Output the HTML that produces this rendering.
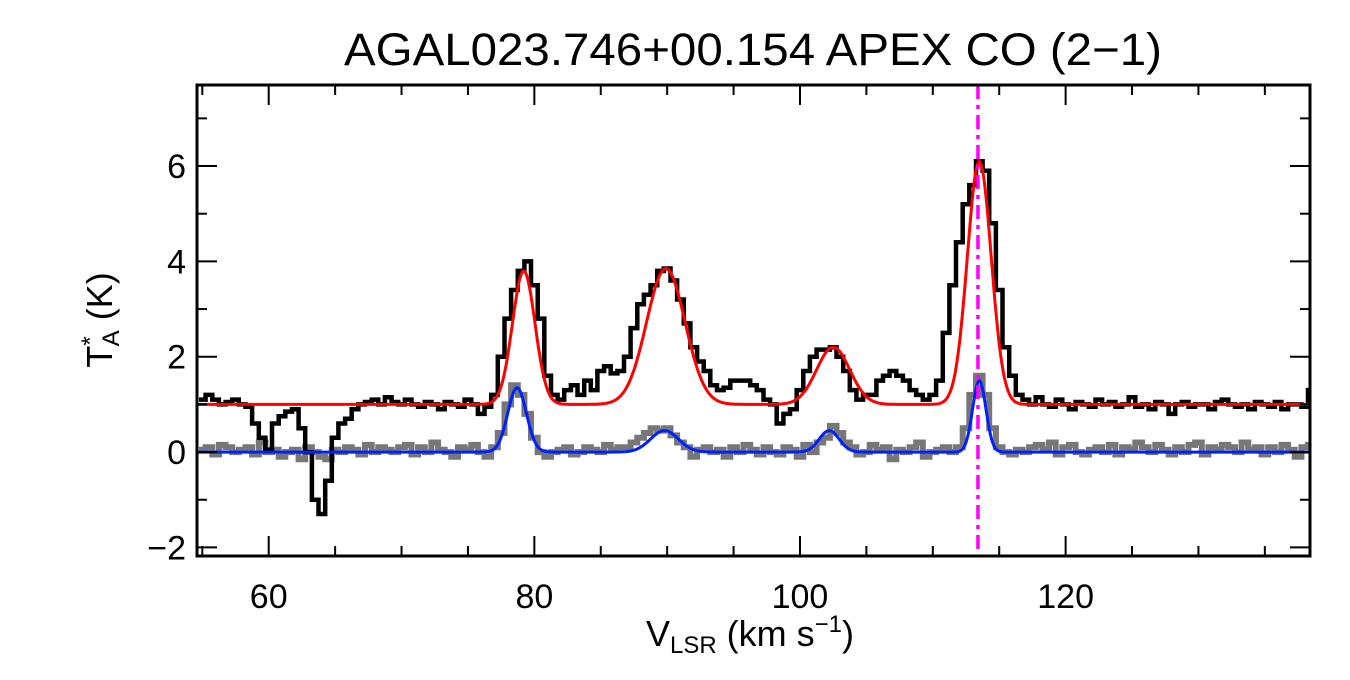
<!DOCTYPE html>
<html><head><meta charset="utf-8"><style>
body{margin:0;background:#fff;width:1350px;height:675px;overflow:hidden}
svg text{font-family:"Liberation Sans",sans-serif;fill:#000}
</style></head><body>
<svg id="chart" width="1350" height="675">
<text x="753" y="65" font-size="45" text-anchor="middle" textLength="818" lengthAdjust="spacingAndGlyphs">AGAL023.746+00.154  APEX CO (2−1)</text>
<g id="series"></g>
<g id="axes"></g>
<text x="750" y="646" font-size="36" text-anchor="middle">V<tspan font-size="24" dy="7">LSR</tspan><tspan dy="-7"> (km s</tspan><tspan font-size="24" dy="-14">−1</tspan><tspan dy="14">)</tspan></text>
<text transform="translate(112,320) rotate(-90)" font-size="36" text-anchor="middle">T<tspan font-size="24" dy="-14">*</tspan><tspan font-size="24" dx="-10" dy="21">A</tspan><tspan dy="-7"> (K)</tspan></text>
</svg>
<script>
const v0 = 55, dv = 0.5;
const obsMain = [
1.1,1.2,1.1,1.0,1.05,1.1,1.0,0.95,
0.6,0.3,0.05,0.6,0.75,0.85,0.9,
0.5,0.0,-1.0,-1.3,-0.6,0.3,0.6,0.7,0.9,1.0,
1.05,1.1,1.0,1.15,1.05,1.0,1.1,1.0,0.95,1.05,1.0,0.9,1.05,1.0,0.95,1.1,1.0,0.8,0.95,
1.2,2.0,2.8,3.4,3.8,4.0,3.5,2.8,1.6,1.2,
1.1,1.3,1.4,1.2,1.5,1.3,1.7,1.8,1.65,1.7,
2.0,2.6,3.1,3.3,3.5,3.8,3.85,3.6,3.2,2.7,
2.2,1.9,1.7,1.4,1.3,1.35,1.5,1.5,1.5,1.4,
1.3,1.1,1.0,0.6,0.8,0.9,1.3,1.7,2.0,2.15,
2.15,2.2,2.0,1.7,1.3,1.1,1.2,1.2,1.5,1.6,
1.7,1.6,1.5,1.3,1.2,1.1,1.2,1.5,2.5,3.5,
4.4,5.2,5.6,6.1,5.9,4.8,3.4,2.2,1.6,1.2,
1.1,1.0,1.15,1.0,0.95,1.1,1.0,0.9,1.05,1.0,0.95,1.1,1.0,1.05,0.95,1.0,1.15,0.95,1.0,0.9,1.05,1.0,
0.8,1.0,1.05,0.95,1.0,1.0,0.9,1.05,1.1,1.0,0.95,1.0,0.9,1.05,1.0,0.95,1.05,0.9,1.0,1.0,0.95,1.3];
const obsIso = [
0.05,0.1,-0.05,0.15,0.1,0.0,0.05,0.1,-0.05,0.2,0.0,0.05,-0.1,0.0,0.05,-0.15,0.1,0.0,-0.1,-0.15,0.05,0.0,
0.1,0.05,-0.05,0.15,0.0,0.1,0.05,0.0,0.1,0.15,-0.05,0.1,0.0,0.2,0.05,0.0,-0.1,0.1,0.05,0.15,0.0,-0.1,
0.1,0.4,1.0,1.4,1.2,0.8,0.3,0.0,-0.1,0.0,
0.05,0.1,-0.05,0.0,0.1,0.05,0.0,0.15,0.05,0.1,
0.1,0.2,0.3,0.4,0.5,0.45,0.5,0.35,0.2,0.1,
-0.1,0.05,0.1,0.0,0.05,-0.1,0.1,0.0,0.15,0.05,
-0.05,0.1,0.0,-0.05,0.1,0.05,-0.1,0.15,0.0,0.2,
0.3,0.55,0.4,0.2,0.1,-0.05,0.0,0.15,0.05,0.1,
-0.15,0.05,0.0,0.1,0.2,-0.1,0.0,0.05,0.1,0.0,
0.1,0.5,1.2,1.6,1.2,0.5,0.1,0.0,-0.05,0.05,
0.0,0.1,0.15,0.05,0.2,-0.05,0.1,0.15,0.0,-0.05,0.05,0.1,0.0,0.15,-0.05,0.1,0.05,0.2,0.1,0.0,0.15,0.05,
-0.05,0.1,0.0,0.15,0.2,-0.05,0.1,0.05,0.15,0.1,0.0,0.2,0.05,0.1,-0.05,0.1,0.0,0.15,0.05,-0.1,0.1,0.15];
const fitMainBase = 1.0;
const fitMainCenters = [79.2, 89.9, 102.5, 113.5];
const fitMainAmps = [2.8, 2.85, 1.2, 5.1];
const fitMainSigmas = [0.85, 1.45, 1.25, 0.9];
const fitIsoCenters = [78.7, 89.8, 102.2, 113.5];
const fitIsoAmps = [1.35, 0.45, 0.45, 1.5];
const fitIsoSigmas = [0.7, 1.05, 0.75, 0.5];
const vMarker = 113.4;
const xTicks = [60, 80, 100, 120];
const yTicks = [-2, 0, 2, 4, 6];

const L=197,R=1310,T=85,B=556, xmin=54.6,xmax=138.4,ymin=-2.18,ymax=7.7;
const X=v=>L+(v-xmin)/(xmax-xmin)*(R-L);
const Y=t=>B-(t-ymin)/(ymax-ymin)*(B-T);
const NS='http://www.w3.org/2000/svg';
const sg=document.getElementById('series'), ag=document.getElementById('axes');
function mk(tag,attrs,parent){const e=document.createElementNS(NS,tag);for(const k in attrs)e.setAttribute(k,attrs[k]);parent.appendChild(e);return e;}
function stepPath(arr){let d='';arr.forEach((t,i)=>{const a=Math.max(X(v0+i*dv-dv/2),L),b=Math.min(X(v0+i*dv+dv/2),R);d+=(i?'L':'M')+a.toFixed(1)+','+Y(t).toFixed(1)+'L'+b.toFixed(1)+','+Y(t).toFixed(1);});return d;}
function fitPath(base,c,a,s){let d='';for(let v=xmin;v<=xmax;v+=0.1){let t=base;for(let k=0;k<c.length;k++)t+=a[k]*Math.exp(-0.5*((v-c[k])/s[k])**2);d+=(d?'L':'M')+X(v).toFixed(1)+','+Y(t).toFixed(1);}return d;}
const clip=mk('clipPath',{id:'pc'},sg);mk('rect',{x:L,y:T,width:R-L,height:B-T},clip);
const g=mk('g',{'clip-path':'url(#pc)'},sg);
const p1=mk('path',{d:stepPath(obsIso),fill:'none',stroke:'#777',"stroke-width":6},g);


const p2=mk('path',{d:stepPath(obsMain),fill:'none',stroke:'#000',"stroke-width":4.5},g);


const p3=mk('path',{d:fitPath(fitMainBase,fitMainCenters,fitMainAmps,fitMainSigmas),fill:'none',stroke:'#f00',"stroke-width":3},g);


const p4=mk('path',{d:fitPath(0,fitIsoCenters,fitIsoAmps,fitIsoSigmas),fill:'none',stroke:'#0020ff',"stroke-width":3},g);


const m=mk('line',{x1:X(vMarker),x2:X(vMarker),y1:T,y2:B,stroke:'#ff00ff',"stroke-width":3.5,"stroke-dasharray":'14 6 4 6'},g);


const fr=mk('rect',{x:L,y:T,width:R-L,height:B-T,fill:'none',stroke:'#000',"stroke-width":3},ag);


for(let v=55;v<=138;v+=5){const maj=v%20===0, len=maj?20:10;
 mk('line',{x1:X(v),x2:X(v),y1:B,y2:B-len,stroke:'#000',"stroke-width":2},ag);
 mk('line',{x1:X(v),x2:X(v),y1:T,y2:T+len,stroke:'#000',"stroke-width":2},ag);}
xTicks.forEach(v=>{const t=mk('text',{x:X(v),y:608,"font-size":34,"text-anchor":'middle'},ag);t.textContent=v;
 
 });
for(let t=-2;t<=7.5;t+=1){const maj=t%2===0,len=maj?20:10;
 mk('line',{x1:L,x2:L+len,y1:Y(t),y2:Y(t),stroke:'#000',"stroke-width":2},ag);
 mk('line',{x1:R,x2:R-len,y1:Y(t),y2:Y(t),stroke:'#000',"stroke-width":2},ag);}
yTicks.forEach(t=>{const e=mk('text',{x:186,y:Y(t)+12,"font-size":34,"text-anchor":'end'},ag);e.textContent=t<0?'−'+(-t):t;
 
 });
</script>
</body></html>
